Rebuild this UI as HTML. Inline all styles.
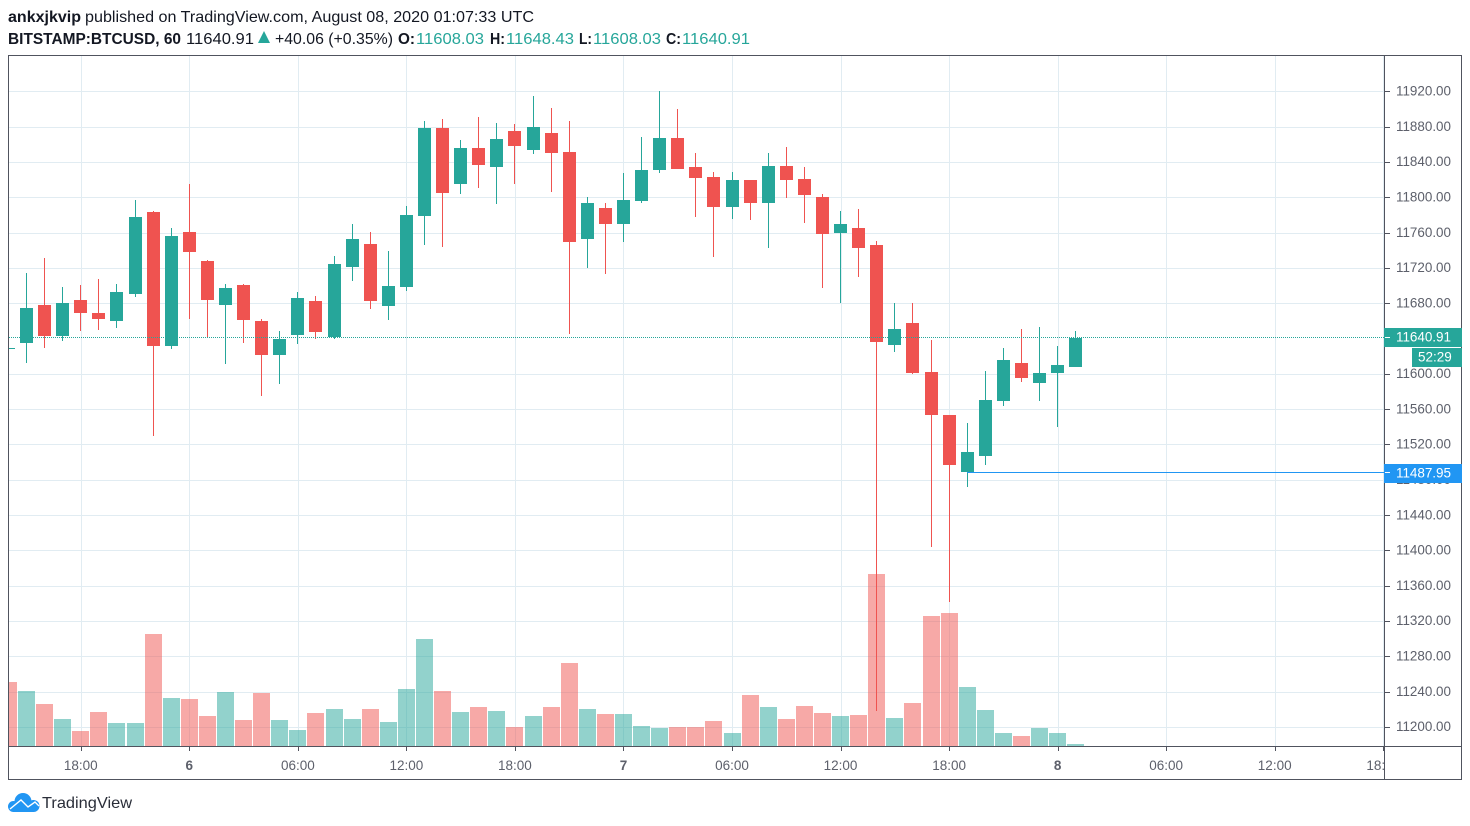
<!DOCTYPE html>
<html lang="en">
<head>
<meta charset="utf-8">
<title>BITSTAMP:BTCUSD, 60</title>
<style>
html,body{margin:0;padding:0;background:#fff;width:1470px;height:826px;overflow:hidden}
svg{display:block;font-family:"Liberation Sans",sans-serif}
</style>
</head>
<body>
<svg id="chart" xmlns="http://www.w3.org/2000/svg" width="1470" height="826" viewBox="0 0 1470 826">
  <defs>
    <clipPath id="pane-clip"><rect x="9" y="56" width="1375" height="690"/></clipPath>
    <clipPath id="time-clip"><rect x="9" y="747" width="1375" height="32"/></clipPath>
  </defs>
  <rect x="0" y="0" width="1470" height="826" fill="#fff"/>

  <g font-size="16" fill="#131722">
    <text x="8" y="22" font-weight="bold" textLength="73" lengthAdjust="spacingAndGlyphs">ankxjkvip</text>
    <text x="85" y="22" textLength="449" lengthAdjust="spacingAndGlyphs">published on TradingView.com, August 08, 2020 01:07:33 UTC</text>
  </g>
  <g font-size="16" fill="#131722">
    <text x="8" y="44" font-weight="bold" textLength="173" lengthAdjust="spacingAndGlyphs">BITSTAMP:BTCUSD, 60</text>
    <text x="186" y="44" textLength="68" lengthAdjust="spacingAndGlyphs">11640.91</text>
    <polygon points="258,43 270,43 264,31" fill="#26a69a"/>
    <text x="275" y="44" textLength="118" lengthAdjust="spacingAndGlyphs">+40.06 (+0.35%)</text>
    <text x="398" y="44" font-weight="bold" textLength="17" lengthAdjust="spacingAndGlyphs">O:</text>
    <text x="416" y="44" fill="#26a69a" textLength="68" lengthAdjust="spacingAndGlyphs">11608.03</text>
    <text x="490" y="44" font-weight="bold" textLength="15" lengthAdjust="spacingAndGlyphs">H:</text>
    <text x="506" y="44" fill="#26a69a" textLength="68" lengthAdjust="spacingAndGlyphs">11648.43</text>
    <text x="579" y="44" font-weight="bold" textLength="13" lengthAdjust="spacingAndGlyphs">L:</text>
    <text x="593" y="44" fill="#26a69a" textLength="68" lengthAdjust="spacingAndGlyphs">11608.03</text>
    <text x="666" y="44" font-weight="bold" textLength="15" lengthAdjust="spacingAndGlyphs">C:</text>
    <text x="682" y="44" fill="#26a69a" textLength="68" lengthAdjust="spacingAndGlyphs">11640.91</text>
  </g>

  <g id="grid" clip-path="url(#pane-clip)"></g>
  <g id="volumes" clip-path="url(#pane-clip)"></g>
  <g id="candles" clip-path="url(#pane-clip)"></g>
  <g id="lines" clip-path="url(#pane-clip)"></g>

  <g fill="none" stroke="#50535e" stroke-width="1" shape-rendering="crispEdges">
    <rect x="8.5" y="55.5" width="1453" height="724"/>
    <line x1="1384.5" y1="55.5" x2="1384.5" y2="779.5"/>
    <line x1="8.5" y1="746.5" x2="1461.5" y2="746.5"/>
  </g>

  <g id="price-axis" font-size="13.5" fill="#5d606b"></g>
  <g id="time-axis" font-size="13.5" fill="#5d606b" clip-path="url(#time-clip)"></g>
  <g id="price-tags" font-size="13.5" fill="#fff"></g>

  <g>
    <g fill="#2196f3">
      <circle cx="23" cy="801.5" r="8.5"/>
      <circle cx="13.5" cy="806.5" r="5.5"/>
      <circle cx="33.5" cy="806" r="6"/>
      <rect x="13" y="804" width="21" height="8"/>
    </g>
    <polyline points="10,809 21,800 28,807 35,802 39,806" fill="none" stroke="#fff" stroke-width="1.4"/>
    <text x="42" y="808" font-size="16" fill="#2a2e39" textLength="90" lengthAdjust="spacingAndGlyphs">TradingView</text>
  </g>
</svg>
<script>
// Price data, one entry per hourly bar (the first bar is clipped by the pane edge)
const opens = [11629,11634.9,11678,11642.8,11683.6,11668.9,11659.8,11690.4,11783.3,11631.5,11760.6,11727.8,11678,11700.6,11659.8,11621.3,11644,11682.5,11641.7,11721,11747,11676.8,11698.3,11778.8,11878.4,11815,11855.8,11834.3,11875,11853.5,11872.8,11851.3,11752.7,11787.8,11769.7,11795.8,11830.9,11867.1,11834.3,11822.9,11789,11819.5,11793.5,11835.4,11820.7,11800.3,11759.5,11765.2,11745.9,11632.7,11657.6,11602.1,11553.4,11488.8,11506.9,11569.2,11612.3,11589.6,11600.9,11608.03];
const highs = [11629,11714.2,11731.2,11698.3,11700.6,11707.4,11701.7,11796.9,11784.4,11765.2,11815,11728.9,11701.7,11701.7,11662.1,11648.5,11692.7,11688.2,11733.5,11769.7,11760.6,11739.1,11790.1,11886.4,11888.6,11864.8,11890.9,11884.1,11883,11914.7,11901.1,11886.4,11800.3,11793.5,11827.5,11868.2,11920.3,11900,11850.1,11828.6,11828.6,11819.5,11850.1,11856.9,11834.3,11803.7,11784.4,11786.7,11750.5,11680.2,11680.2,11638.3,11553.4,11544.3,11603.2,11629.3,11650.8,11653,11631.5,11648.43];
const lows = [11629,11612.3,11629.3,11637.2,11648.5,11649.6,11651.9,11687,11529.6,11628.1,11662.1,11641.3,11611.1,11634.9,11574.9,11588.5,11633.8,11639.4,11639.4,11705.1,11673.4,11661,11693.8,11745.9,11743.7,11803.7,11810.5,11792.4,11815,11849,11805.9,11645.1,11719.9,11713.1,11749.3,11793.5,11827.5,11832,11777.6,11732.3,11775.4,11774.2,11742.5,11799.2,11770.8,11697.2,11680.2,11709.7,11218.1,11624.7,11599.8,11403.9,11341.6,11471.8,11496.7,11563.6,11590.8,11569.2,11539.8,11608.03];
const closes = [11629,11674.6,11642.8,11680.2,11668.9,11662.1,11692.7,11777.6,11631.5,11756.1,11738,11683.6,11697.2,11661,11621.3,11639.4,11685.9,11647.4,11724.4,11752.7,11682.5,11699.5,11779.9,11878.4,11804.8,11855.8,11836.5,11866,11858,11879.6,11850.1,11749.3,11793.5,11769.7,11796.9,11830.9,11867.1,11832,11821.8,11789,11819.5,11793.5,11835.4,11819.5,11802.6,11758.4,11769.7,11742.5,11636.1,11650.8,11600.9,11553.4,11496.7,11511.5,11570.4,11615.7,11595.3,11600.9,11610,11640.91];
// Volume data
const volumes = [640,550,420,270,150,340,230,230,1120,480,470,300,540,260,530,260,160,330,370,270,370,240,570,1070,550,340,390,350,190,300,390,830,370,320,320,200,180,190,190,250,130,510,390,270,400,330,300,310,1720,280,430,1300,1330,590,360,130,100,180,130,20];
const volumeRising = [0,1,0,1,0,0,1,1,0,1,0,0,1,0,0,1,1,0,1,1,0,1,1,1,0,1,0,1,0,1,0,0,1,0,1,1,1,0,0,0,1,0,1,0,0,0,1,0,0,1,0,0,0,1,1,1,0,1,1,1];
// Axis data
const priceTicks = [11920,11880,11840,11800,11760,11720,11680,11640,11600,11560,11520,11480,11440,11400,11360,11320,11280,11240,11200];
const timeLabels = ["18:00","6","06:00","12:00","18:00","7","06:00","12:00","18:00","8","06:00","12:00","18:00"];
const timeBars = [4,10,16,22,28,34,40,46,52,58,64,70,76];
const lastPrice = 11640.91;
const markerPrice = 11487.95;
const markerBar = 53;
const countdown = "52:29";

const NS = "http://www.w3.org/2000/svg";
function xScale(bar){ return 8.41 + 18.09 * bar; }
function yScale(price){ return 91.3 + (11920 - price) * 0.8829; }
function volumeHeight(v){ return v * 0.1; }
function make(tag, attrs, parent, text){
  const el = document.createElementNS(NS, tag);
  for (const k in attrs) el.setAttribute(k, attrs[k]);
  if (text !== undefined) el.textContent = text;
  parent.appendChild(el);
  return el;
}
const gridG = document.getElementById("grid");
const volG = document.getElementById("volumes");
const candleG = document.getElementById("candles");
const linesG = document.getElementById("lines");
const priceG = document.getElementById("price-axis");
const timeG = document.getElementById("time-axis");
const tagG = document.getElementById("price-tags");

priceTicks.forEach(function(p){
  const y = Math.round(yScale(p)) + 0.5;
  const g = make("line", {x1:9, x2:1384, y1:y, y2:y, stroke:"#e1ecf2", "stroke-width":1, "shape-rendering":"crispEdges"}, gridG);
  
  
  if (p === 11640) { g.remove(); }
  const t = make("line", {x1:1385, x2:1390, y1:y, y2:y, stroke:"#50535e", "stroke-width":1, "shape-rendering":"crispEdges"}, priceG);
  
  
  if (p === 11640) { t.remove(); return; }
  const l = make("text", {x:1396, y:yScale(p) + 4.2, textLength:55, lengthAdjust:"spacingAndGlyphs"}, priceG, p.toFixed(2));
  
  
});

timeLabels.forEach(function(label, i){
  const x = Math.round(xScale(timeBars[i])) + 0.5;
  const g = make("line", {x1:x, x2:x, y1:56, y2:746, stroke:"#e1ecf2", "stroke-width":1, "shape-rendering":"crispEdges"}, gridG);
  
  
  const t = make("line", {x1:x, x2:x, y1:747, y2:751, stroke:"#50535e", "stroke-width":1, "shape-rendering":"crispEdges"}, timeG);
  
  
  const isDay = label.length === 1;
  const l = make("text", {x:xScale(timeBars[i]), y:770, "text-anchor":"middle", "font-weight":isDay ? "bold" : "normal"}, timeG, label);
  
  
});

volumes.forEach(function(v, i){
  const h = Math.round(volumeHeight(v));
  const left = Math.round(xScale(i) - 8.5);
  const b = make("rect", {x:left, y:746 - h, width:17, height:h, fill:volumeRising[i] ? "#26a69a" : "#ef5350", "fill-opacity":0.5, "shape-rendering":"crispEdges"}, volG);
  
  
});

opens.forEach(function(o, i){
  const c = closes[i];
  const color = c >= o ? "#26a69a" : "#ef5350";
  const left = Math.round(xScale(i) - 6.5);
  const yTop = Math.round(yScale(Math.max(o, c)));
  const yBot = Math.round(yScale(Math.min(o, c)));
  const yH = Math.round(yScale(highs[i]));
  const yL = Math.round(yScale(lows[i]));
  const w = make("rect", {x:left + 6, y:yH, width:1, height:Math.max(1, yL - yH), fill:color, "shape-rendering":"crispEdges"}, candleG);
  
  
  const b = make("rect", {x:left, y:yTop, width:13, height:Math.max(1, yBot - yTop), fill:color, "shape-rendering":"crispEdges"}, candleG);
  
  
});

const lastY = Math.floor(yScale(lastPrice)) + 0.5;
const priceLine = make("line", {x1:9, x2:1384, y1:lastY, y2:lastY, stroke:"#26a69a", "stroke-width":1, "stroke-dasharray":"1 1", "shape-rendering":"crispEdges"}, linesG);


const markY = Math.floor(yScale(markerPrice)) + 0.5;
const markLine = make("line", {x1:xScale(markerBar), x2:1384, y1:markY, y2:markY, stroke:"#2196f3", "stroke-width":1, "shape-rendering":"crispEdges"}, linesG);



function tag(name, x, y, w, h, fill, label, textX){
  const r = make("rect", {x:x, y:y, width:w, height:h, fill:fill, "shape-rendering":"crispEdges"}, tagG);
  
  
  const t = make("text", {x:textX, y:y + h / 2 + 4, "font-weight":"normal"}, tagG, label);
  
  
  return t;
}
tag("last-price-tag", 1384, Math.round(yScale(lastPrice)) - 10, 78, 19, "#26a69a", lastPrice.toFixed(2), 1396).setAttribute("textLength", 55);
tag("countdown-tag", 1412, Math.round(yScale(lastPrice)) + 10, 50, 19, "#26a69a", countdown, 1418);
tag("marker-price-tag", 1384, Math.round(yScale(markerPrice)) - 9, 78, 19, "#2196f3", markerPrice.toFixed(2), 1396).setAttribute("textLength", 55);
[lastY, markY].forEach(function(y){
  const d = make("line", {x1:1385, x2:1390, y1:y, y2:y, stroke:"#fff", "stroke-width":1, "shape-rendering":"crispEdges"}, tagG);
  
  
});
</script>
</body>
</html>
